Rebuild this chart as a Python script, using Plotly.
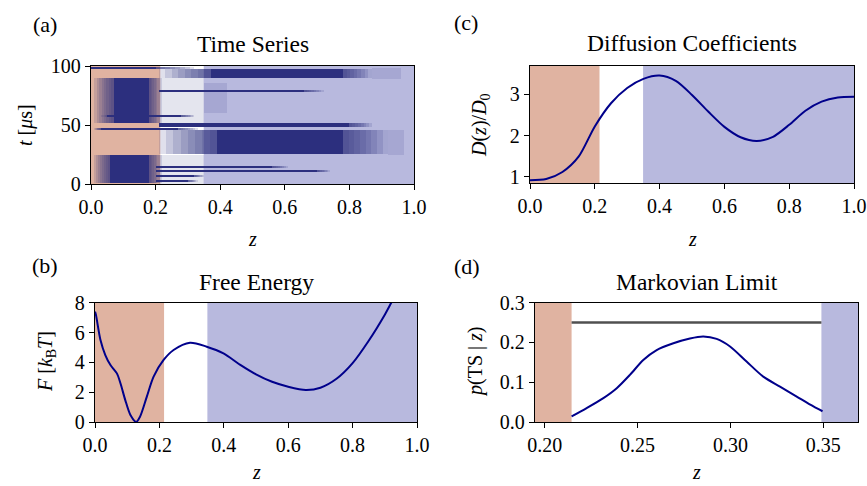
import plotly.graph_objects as go

# ---------------- data ----------------
# region boundaries (z)
REACTANT_EDGE = 0.2145
PRODUCT_EDGE = 0.349

# (a) time series, approximated as bands of dense trajectory:
# t start, t end, dense z low, dense z high, fuzzy extent below / above the dense part
TS_T0 = [97.8, 89.8, 52.0, 78.6, 48.3, 46.2, 25.7, 1.2, 10.9, 14.3, 6.6, 57.5, 2.5]
TS_T1 = [99.3, 97.6, 90.0, 79.8, 51.8, 47.8, 46.0, 24.5, 11.9, 14.9, 7.4, 58.3, 3.2]
TS_ZLO = [0.00, 0.37, 0.07, 0.21, 0.21, 0.03, 0.39, 0.06, 0.20, 0.20, 0.20, 0.05, 0.20]
TS_ZHI = [0.20, 0.78, 0.18, 0.66, 0.80, 0.27, 0.78, 0.18, 0.70, 0.56, 0.32, 0.28, 0.30]
TS_FADE_LO = [0.00, 0.16, 0.06, 0.00, 0.00, 0.02, 0.18, 0.05, 0.00, 0.00, 0.00, 0.03, 0.00]
TS_FADE_HI = [0.12, 0.09, 0.04, 0.06, 0.07, 0.06, 0.14, 0.04, 0.04, 0.05, 0.03, 0.04, 0.03]

# sparse scattered points (t start, t end, z low, z high)
TS_SPARSE_T0 = [52.0, 0.0, 89.0, 25.0, 60.0]
TS_SPARSE_T1 = [90.0, 25.0, 98.0, 46.0, 86.0]
TS_SPARSE_ZLO = [0.21, 0.21, 0.87, 0.92, 0.35]
TS_SPARSE_ZHI = [0.35, 0.35, 0.96, 0.97, 0.42]

# (b) free energy
FE_Z = [0.0, 0.003, 0.017, 0.032, 0.048, 0.068, 0.079, 0.094, 0.110, 0.128, 0.140,
        0.161, 0.182, 0.213, 0.244, 0.295, 0.347, 0.399, 0.45, 0.5, 0.55, 0.6,
        0.655, 0.7, 0.75, 0.8, 0.85, 0.9, 0.92, 0.93]
FE_F = [7.4, 7.17, 5.5, 4.49, 3.82, 3.26, 2.6, 1.47, 0.47, 0.0, 0.36,
        1.7, 3.04, 4.16, 4.83, 5.32, 5.05, 4.6, 3.85, 3.2, 2.7, 2.37,
        2.15, 2.3, 2.9, 3.95, 5.45, 7.2, 8.0, 8.4]

# (c) diffusion coefficients
D_Z = [0.0, 0.05, 0.1, 0.15, 0.2, 0.25, 0.3, 0.35, 0.4, 0.45, 0.5,
       0.55, 0.6, 0.65, 0.7, 0.75, 0.8, 0.85, 0.9, 0.95, 1.0]
D_VAL = [0.92, 0.95, 1.12, 1.49, 2.22, 2.78, 3.15, 3.37, 3.45, 3.32, 2.98,
         2.58, 2.21, 1.96, 1.87, 1.97, 2.26, 2.6, 2.82, 2.92, 2.94]

# (d) Markovian limit
P_Z = [0.2145, 0.2226, 0.2316, 0.2388, 0.246, 0.2531, 0.2603, 0.2693, 0.2782,
       0.2854, 0.2926, 0.2998, 0.3087, 0.3177, 0.3267, 0.3357, 0.3447, 0.3496]
P_TS = [0.014, 0.035, 0.06, 0.085, 0.119, 0.156, 0.181, 0.198, 0.21,
        0.215, 0.209, 0.19, 0.152, 0.114, 0.089, 0.064, 0.039, 0.027]
P_LIMIT = 0.25

# ---------------- styling ----------------
W, H = 867, 486
FONT = "Liberation Serif"
NAVY = "#00008b"
TRAJ = "#2c2f7e"
ORANGE = "#e0b3a1"
BLUE = "#b8b9de"
TICK_SIZE = 20
LABEL_SIZE = 20
TITLE_SIZE = 23.5
FADE_STEPS = 8


def px(x):
    return x / W


def py(y):
    return 1 - y / H


fig = go.Figure()


def bar(t0, t1, zlo, zhi, opacity):
    fig.add_trace(go.Bar(
        orientation="h",
        y=[(a + b) / 2 for a, b in zip(t0, t1)],
        width=[b - a for a, b in zip(t0, t1)],
        base=zlo,
        x=[h - l for l, h in zip(zlo, zhi)],
        marker=dict(color=TRAJ, line=dict(width=0)),
        opacity=opacity,
        xaxis="x", yaxis="y",
        showlegend=False, hoverinfo="skip",
    ))


bar(TS_SPARSE_T0, TS_SPARSE_T1, TS_SPARSE_ZLO, TS_SPARSE_ZHI, 0.12)
# fuzzy edges: stacked translucent layers shrinking towards the dense core
for k in range(FADE_STEPS, 0, -1):
    f = k / FADE_STEPS
    bar(TS_T0, TS_T1,
        [max(0.0, lo - f * d) for lo, d in zip(TS_ZLO, TS_FADE_LO)],
        [hi + f * d for hi, d in zip(TS_ZHI, TS_FADE_HI)],
        0.14)
bar(TS_T0, TS_T1, TS_ZLO, TS_ZHI, 1.0)

LINE = dict(color=NAVY, width=2, shape="spline", smoothing=0.8)
fig.add_trace(go.Scatter(x=D_Z, y=D_VAL, mode="lines", line=LINE,
                         xaxis="x2", yaxis="y2", showlegend=False))
fig.add_trace(go.Scatter(x=FE_Z, y=FE_F, mode="lines", line=LINE,
                         xaxis="x3", yaxis="y3", showlegend=False))
fig.add_trace(go.Scatter(x=P_Z, y=P_TS, mode="lines", line=LINE,
                         xaxis="x4", yaxis="y4", showlegend=False))
fig.add_trace(go.Scatter(x=[REACTANT_EDGE, PRODUCT_EDGE], y=[P_LIMIT, P_LIMIT], mode="lines",
                         line=dict(color="#505050", width=2.5),
                         xaxis="x4", yaxis="y4", showlegend=False))

# shaded regions
shapes = []
for xr, yr, lo, hi in [("x", "y", 0, 1), ("x2", "y2", 0, 1), ("x3", "y3", 0, 1), ("x4", "y4", 0.1948, 0.3687)]:
    shapes.append(dict(type="rect", xref=xr, yref=yr + " domain", x0=lo, x1=REACTANT_EDGE, y0=0, y1=1,
                       fillcolor=ORANGE, line=dict(width=0), layer="below"))
    shapes.append(dict(type="rect", xref=xr, yref=yr + " domain", x0=PRODUCT_EDGE, x1=hi, y0=0, y1=1,
                       fillcolor=BLUE, line=dict(width=0), layer="below"))


def axis(domain, rng, tickvals, ticktext, anchor):
    return dict(domain=domain, range=rng, tickvals=tickvals, ticktext=ticktext, anchor=anchor,
                showline=True, linecolor="black", linewidth=1.4, mirror=True,
                ticks="outside", ticklen=5, tickwidth=1.2, tickcolor="black",
                showgrid=False, zeroline=False, automargin=False,
                tickfont=dict(family=FONT, size=TICK_SIZE, color="black"))


ZT = [0, 0.2, 0.4, 0.6, 0.8, 1.0]
ZTT = ["0.0", "0.2", "0.4", "0.6", "0.8", "1.0"]

dA_x = [px(91), px(414)]; dA_y = [py(184), py(66)]
dC_x = [px(530), px(854)]; dC_y = [py(183), py(66)]
dB_x = [px(95), px(417)]; dB_y = [py(422), py(302.7)]
dD_x = [px(535), px(858)]; dD_y = [py(422), py(302.7)]

fig.update_layout(
    template="none",
    width=W, height=H,
    margin=dict(l=0, r=0, t=0, b=0, autoexpand=False),
    paper_bgcolor="white", plot_bgcolor="white",
    barmode="overlay", bargap=0,
    xaxis=axis(dA_x, [0, 1], ZT, ZTT, "y"),
    yaxis=axis(dA_y, [0, 100], [0, 50, 100], ["0", "50", "100"], "x"),
    xaxis2=axis(dC_x, [0, 1], ZT, ZTT, "y2"),
    yaxis2=axis(dC_y, [0.855, 3.68], [1, 2, 3], ["1", "2", "3"], "x2"),
    xaxis3=axis(dB_x, [0, 1], ZT, ZTT, "y3"),
    yaxis3=axis(dB_y, [0, 8], [0, 2, 4, 6, 8], ["0", "2", "4", "6", "8"], "x3"),
    xaxis4=axis(dD_x, [0.1948, 0.3687], [0.20, 0.25, 0.30, 0.35], ["0.20", "0.25", "0.30", "0.35"], "y4"),
    yaxis4=axis(dD_y, [0, 0.3], [0, 0.1, 0.2, 0.3], ["0.0", "0.1", "0.2", "0.3"], "x4"),
    shapes=shapes,
)

ann = []


def text(x, y, s, size, angle=0):
    ann.append(dict(x=px(x), y=py(y), xref="paper", yref="paper", text=s, showarrow=False,
                    xanchor="center", yanchor="middle", textangle=angle,
                    font=dict(family=FONT, size=size, color="black")))


# titles
text(252.5, 44, "Time Series", TITLE_SIZE)
text(692, 43, "Diffusion Coefficients", TITLE_SIZE)
text(256, 282, "Free Energy", TITLE_SIZE)
text(696.5, 282, "Markovian Limit", TITLE_SIZE)
# panel letters
text(45, 24, "(a)", 22)
text(466, 22, "(c)", 22)
text(45, 265, "(b)", 22)
text(467, 266, "(d)", 22)
# x labels
text(252.5, 239, "<i>z</i>", LABEL_SIZE)
text(692, 239, "<i>z</i>", LABEL_SIZE)
text(256, 472, "<i>z</i>", LABEL_SIZE)
text(696.5, 472, "<i>z</i>", LABEL_SIZE)
# y labels
text(25, 125, "<i>t</i> [<i>μ</i>s]", LABEL_SIZE, -90)
text(480, 125, "<i>D</i>(<i>z</i>)/<i>D</i><sub>0</sub>", LABEL_SIZE, -90)
text(46, 362, "<i>F</i> [<i>k</i><sub>B</sub><i>T</i>]", LABEL_SIZE, -90)
text(475, 362, "<i>p</i>(TS | <i>z</i>)", LABEL_SIZE, -90)

fig.update_layout(annotations=ann)
fig.write_html("out.html", config={"displayModeBar": False},
               post_script="document.body.style.margin='0';document.body.style.overflow='hidden';")
